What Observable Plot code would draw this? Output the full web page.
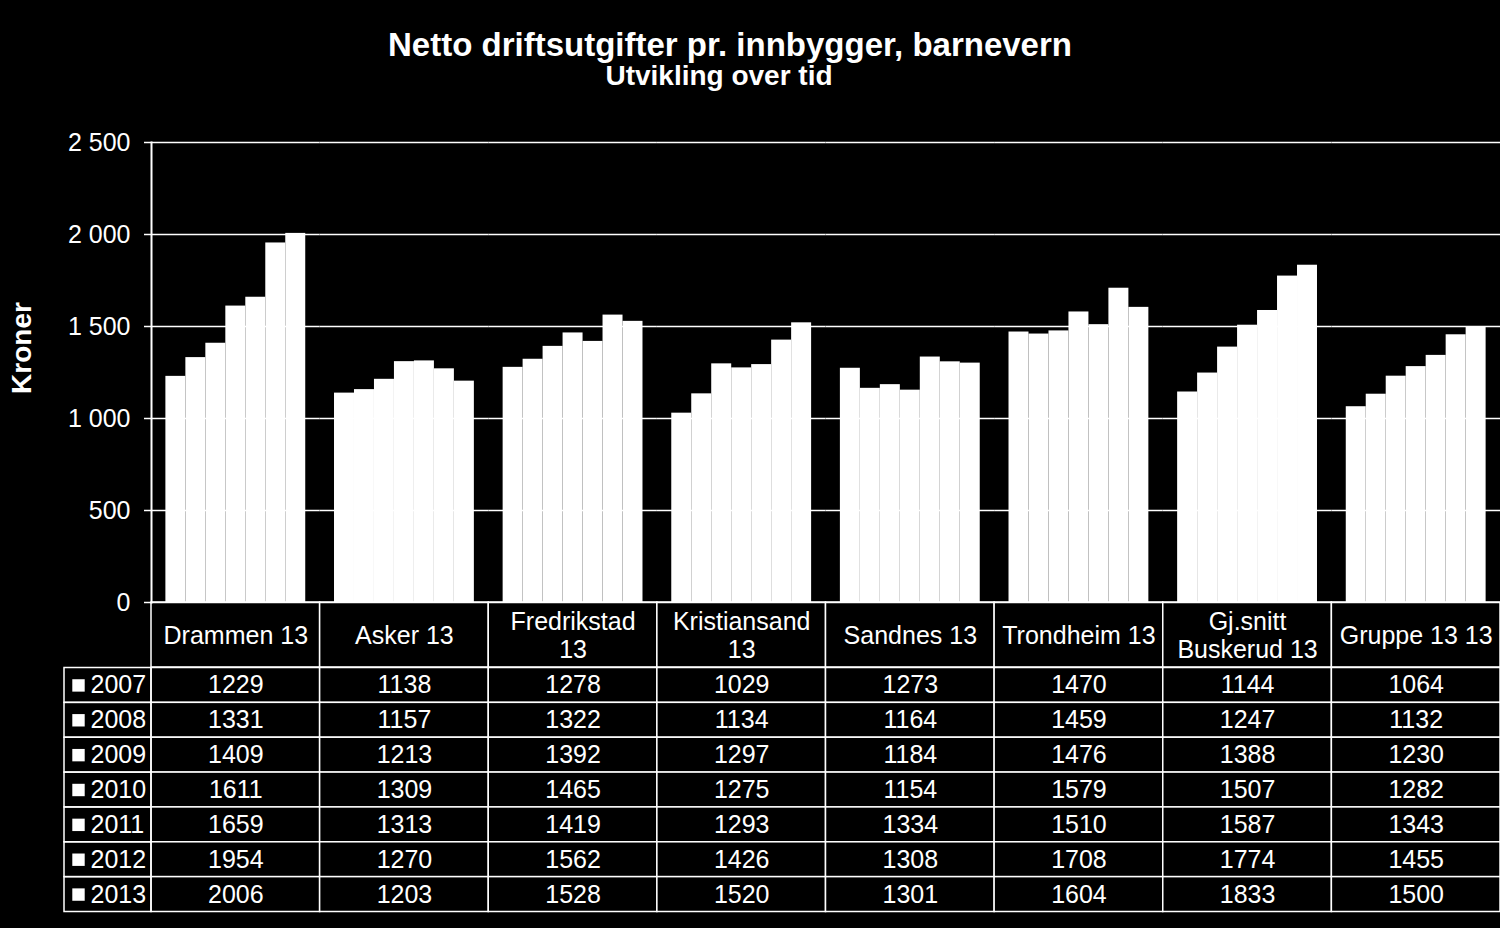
<!DOCTYPE html>
<html><head><meta charset="utf-8">
<script src="https://cdn.jsdelivr.net/npm/d3@7"></script>
<script src="https://cdn.jsdelivr.net/npm/@observablehq/plot@0.6"></script>
<style>
html,body{margin:0;padding:0;background:#000;width:1500px;height:928px;overflow:hidden;}
body{position:relative;font-family:"Liberation Sans",Arial,sans-serif;color:#fff;}
.t{position:absolute;white-space:nowrap;font-weight:bold;transform:translate(-50%,-50%);line-height:1;z-index:5;}
#chart,#thead,#tbody{position:absolute;left:0;}
#chart{z-index:3;}
</style></head><body>
<div class="t" style="left:730px;top:44px;font-size:33px">Netto driftsutgifter pr. innbygger, barnevern</div>
<div class="t" style="left:719px;top:76px;font-size:28px">Utvikling over tid</div>
<div class="t" style="left:22px;top:348px;font-size:28px;transform:translate(-50%,-50%) rotate(-90deg)">Kroner</div>
<div id="chart" style="top:0"></div>
<div id="thead" style="top:601px"></div>
<div id="tbody" style="top:666px"></div>
<script>
const categories = ["Drammen 13","Asker 13","Fredrikstad 13","Kristiansand 13","Sandnes 13","Trondheim 13","Gj.snitt Buskerud 13","Gruppe 13 13"];
const headerLabels = ["Drammen 13","Asker 13","Fredrikstad\n13","Kristiansand\n13","Sandnes 13","Trondheim 13","Gj.snitt\nBuskerud 13","Gruppe 13 13"];
const years = [2007, 2008, 2009, 2010, 2011, 2012, 2013];
const v2007 = [1229, 1138, 1278, 1029, 1273, 1470, 1144, 1064];
const v2008 = [1331, 1157, 1322, 1134, 1164, 1459, 1247, 1132];
const v2009 = [1409, 1213, 1392, 1297, 1184, 1476, 1388, 1230];
const v2010 = [1611, 1309, 1465, 1275, 1154, 1579, 1507, 1282];
const v2011 = [1659, 1313, 1419, 1293, 1334, 1510, 1587, 1343];
const v2012 = [1954, 1270, 1562, 1426, 1308, 1708, 1774, 1455];
const v2013 = [2006, 1203, 1528, 1520, 1301, 1604, 1833, 1500];
const yTicks = [0, 500, 1000, 1500, 2000, 2500];

const series = [v2007, v2008, v2009, v2010, v2011, v2012, v2013];
const rows = [];
years.forEach((yr, j) => series[j].forEach((v, i) => rows.push({category: categories[i], year: yr, value: v})));

const W = 1500, ML = 151;
const FONT = '"Liberation Sans", Arial, sans-serif';
const style = {background: "transparent", color: "white", fontFamily: FONT, fontSize: "25px"};
const fmt = d => d3.format(",")(d).replace(/,/g, "\u00a0");

const chart = Plot.plot({
  width: W, height: 620, marginTop: 142, marginBottom: 18, marginLeft: ML, marginRight: 0,
  style,
  fx: {domain: categories, padding: 0, round: false, axis: null},
  x: {domain: years, paddingInner: 0, paddingOuter: 0.72, round: false, axis: null},
  y: {domain: [0, 2500], label: null},
  marks: [
    Plot.gridY(yTicks, {stroke: "white", strokeOpacity: 1, strokeWidth: 1.5}),
    Plot.barY(rows, {fx: "category", x: "year", y: "value", fill: "white"}),
    Plot.axisY(yTicks, {tickSize: 7, tickPadding: 14, tickFormat: fmt, stroke: "white", strokeWidth: 1.5, fill: "white", label: null}),
    Plot.frame({anchor: "left", facetAnchor: "left", stroke: "white", strokeWidth: 2})
  ]
});
document.getElementById("chart").append(chart);

const thead = Plot.plot({
  width: W, height: 67, marginTop: 1, marginBottom: 1, marginLeft: ML, marginRight: 0,
  style,
  x: {domain: categories, padding: 0, round: false, axis: null},
  marks: [
    Plot.cell(categories, {x: d => d, stroke: "white", strokeWidth: 1.5, fill: "black"}),
    Plot.text(categories, {x: d => d, text: (d, i) => headerLabels[i], lineHeight: 1.12, fill: "white"})
  ]
});
document.getElementById("thead").append(thead);

const tbody = Plot.plot({
  width: W, height: 248, marginTop: 1.5, marginBottom: 2.5, marginLeft: ML, marginRight: 0,
  style,
  x: {domain: categories, padding: 0, round: false, axis: null},
  y: {domain: years, padding: 0, round: false, axis: null},
  marks: [
    Plot.cell(rows, {x: "category", y: "year", stroke: "white", strokeWidth: 1.5, fill: "black"}),
    Plot.text(rows, {x: "category", y: "year", text: d => String(d.value), fill: "white"}),
    Plot.cell(years, {y: d => d, stroke: "white", strokeWidth: 1.5, fill: "none", insetLeft: -87, insetRight: W - ML}),
    Plot.dot(years, {y: d => d, frameAnchor: "left", dx: -73, symbol: "square", r: 7, fill: "white", stroke: "none"}),
    Plot.text(years, {y: d => d, frameAnchor: "left", textAnchor: "start", dx: -61, text: d => String(d), fill: "white"})
  ]
});
document.getElementById("tbody").append(tbody);
</script>
</body></html>
